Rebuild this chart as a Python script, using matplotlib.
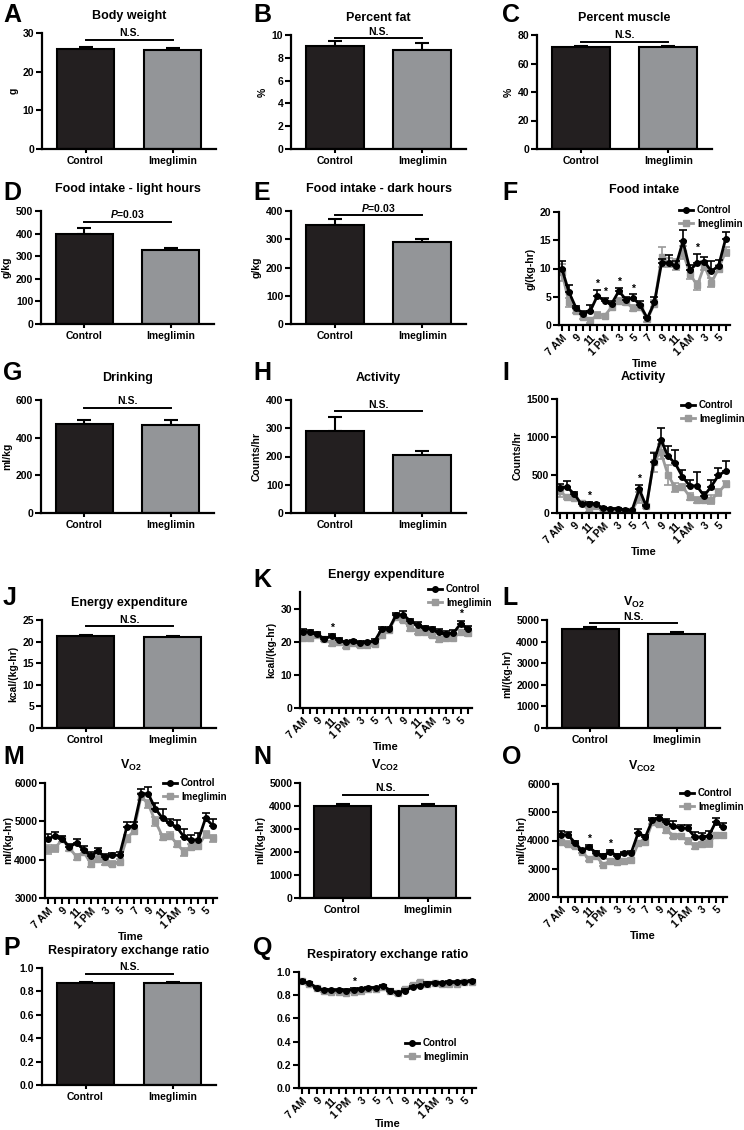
import matplotlib
matplotlib.use('Agg')
import matplotlib.pyplot as plt
from matplotlib.lines import Line2D
import numpy as np

plt.rcParams['font.family'] = ['Liberation Sans', 'DejaVu Sans']
plt.rcParams['font.weight'] = 'bold'
plt.rcParams['axes.labelweight'] = 'bold'
plt.rcParams['axes.titleweight'] = 'bold'
plt.rcParams['mathtext.fontset'] = 'custom'
plt.rcParams['mathtext.rm'] = 'Liberation Sans:bold'
plt.rcParams['mathtext.bf'] = 'Liberation Sans:bold'
plt.rcParams['mathtext.it'] = 'Liberation Sans:italic:bold'

groups = ['Control', 'Imeglimin']
hours = ['7 AM', '9', '11', '1 PM', '3', '5', '7', '9', '11', '1 AM', '3', '5']

# bar panels: means, sem
body_weight = [25.8, 25.6]; body_weight_err = [0.6, 0.4]
pct_fat = [9.0, 8.7]; pct_fat_err = [0.5, 0.6]
pct_muscle = [71.5, 71.5]; pct_muscle_err = [0.5, 0.7]
food_light = [400, 326]; food_light_err = [25, 12]
food_dark = [350, 290]; food_dark_err = [20, 10]
drinking = [470, 468]; drinking_err = [25, 25]
activity = [290, 205]; activity_err = [50, 15]
energy = [21.2, 21.1]; energy_err = [0.3, 0.3]
vo2 = [4600, 4360]; vo2_err = [80, 80]
vco2 = [4020, 4020]; vco2_err = [80, 80]
rer = [0.87, 0.87]; rer_err = [0.01, 0.01]

# time series (24 hourly points, 7 AM .. 6 AM)
food_ctl = [10.0, 5.8, 3.0, 2.0, 2.5, 5.2, 4.2, 3.8, 6.0, 4.5, 4.8, 3.5, 1.2, 4.0, 11.0, 11.0, 10.5, 14.8, 9.7, 11.0, 11.2, 9.5, 10.5, 15.3]
food_ctl_err = [1.4, 1.3, 0.4, 0.5, 1.0, 1.0, 0.6, 0.5, 0.6, 0.5, 0.6, 0.7, 0.3, 1.0, 0.7, 1.4, 0.9, 2.0, 1.0, 1.5, 0.8, 1.8, 1.0, 1.1]
food_ime = [9.3, 4.0, 2.5, 1.5, 0.8, 1.8, 1.6, 3.2, 4.2, 4.0, 3.0, 3.2, 1.0, 3.8, 12.0, 11.0, 10.7, 12.8, 9.0, 7.0, 10.5, 7.5, 10.0, 13.0]
food_ime_err = [1.5, 0.8, 0.4, 0.4, 0.4, 0.5, 0.4, 0.6, 0.5, 0.5, 0.5, 0.5, 0.4, 0.6, 1.8, 0.8, 1.0, 1.2, 0.8, 0.8, 0.8, 0.8, 0.6, 0.8]
food_stars = [5, 6, 8, 10, 19]

act_ctl = [335, 340, 250, 113, 120, 113, 65, 52, 56, 39, 35, 313, 87, 665, 965, 748, 652, 478, 360, 356, 226, 348, 496, 552]
act_ctl_err = [50, 75, 30, 20, 25, 25, 15, 12, 10, 10, 10, 60, 20, 120, 160, 140, 180, 90, 80, 190, 50, 90, 100, 130]
act_ime = [283, 209, 196, 130, 43, 96, 56, 30, 43, 30, 30, 204, 87, 674, 804, 500, 335, 348, 217, 174, 174, 174, 270, 378]
act_ime_err = [70, 30, 30, 15, 30, 20, 10, 10, 10, 10, 10, 70, 20, 130, 100, 130, 60, 40, 50, 40, 40, 60, 50, 40]
act_stars = [4, 11]

ee_ctl = [23.0, 22.8, 22.3, 20.8, 21.7, 20.5, 19.8, 20.1, 19.7, 19.8, 20.1, 23.8, 23.8, 28.0, 28.2, 26.2, 25.0, 24.1, 23.8, 22.8, 22.4, 22.6, 25.4, 23.9]
ee_ctl_err = [0.8, 0.6, 0.5, 0.5, 0.6, 0.5, 0.5, 0.5, 0.5, 0.5, 0.6, 0.7, 0.6, 0.7, 1.0, 0.8, 0.9, 0.7, 0.7, 1.0, 0.7, 1.0, 1.0, 0.9]
ee_ime = [21.2, 21.2, 22.0, 20.8, 19.5, 20.0, 18.8, 19.5, 19.0, 19.0, 19.2, 22.0, 23.5, 27.5, 26.7, 24.0, 23.0, 23.0, 22.0, 20.7, 21.2, 21.2, 22.8, 22.5]
ee_ime_err = [0.8, 0.7, 0.6, 0.6, 0.7, 0.6, 0.6, 0.6, 0.6, 0.6, 0.6, 0.8, 0.7, 0.8, 0.8, 0.8, 0.7, 0.7, 0.7, 0.8, 0.7, 0.8, 0.8, 0.8]
ee_stars = [4, 22]

vo2_ctl = [4540, 4620, 4550, 4330, 4440, 4250, 4100, 4220, 4060, 4110, 4120, 4840, 4880, 5720, 5720, 5330, 5080, 4950, 4850, 4590, 4510, 4520, 5080, 4890]
vo2_ctl_err = [120, 100, 80, 80, 100, 100, 90, 90, 80, 70, 70, 130, 100, 120, 180, 150, 230, 100, 180, 220, 130, 180, 150, 180]
vo2_ime = [4270, 4300, 4530, 4300, 4080, 4200, 3900, 4020, 3930, 3900, 3950, 4550, 4750, 5650, 5450, 5000, 4600, 4630, 4420, 4200, 4330, 4350, 4660, 4560]
vo2_ime_err = [110, 90, 80, 70, 80, 80, 80, 70, 70, 70, 70, 100, 80, 100, 100, 120, 80, 80, 80, 100, 70, 80, 90, 90]

vco2_ctl = [4200, 4200, 3920, 3650, 3760, 3570, 3450, 3600, 3460, 3540, 3570, 4280, 4120, 4720, 4790, 4650, 4500, 4450, 4430, 4130, 4120, 4160, 4650, 4480]
vco2_ctl_err = [120, 110, 70, 60, 80, 70, 60, 60, 60, 60, 70, 120, 80, 80, 130, 120, 180, 90, 130, 170, 130, 180, 150, 150]
vco2_ime = [3930, 3880, 3820, 3600, 3350, 3450, 3150, 3270, 3250, 3270, 3300, 3900, 3950, 4650, 4600, 4380, 4170, 4150, 4000, 3800, 3880, 3900, 4200, 4180]
vco2_ime_err = [100, 90, 70, 60, 80, 60, 70, 60, 60, 60, 70, 90, 80, 80, 80, 100, 70, 70, 90, 100, 80, 120, 80, 80]
vco2_stars = [4, 7]

rer_ctl = [0.92, 0.905, 0.865, 0.845, 0.843, 0.842, 0.84, 0.848, 0.85, 0.86, 0.865, 0.88, 0.84, 0.82, 0.84, 0.87, 0.88, 0.9, 0.905, 0.905, 0.91, 0.91, 0.915, 0.92]
rer_ctl_err = [0.01] * 24
rer_ime = [0.925, 0.9, 0.86, 0.84, 0.83, 0.825, 0.82, 0.825, 0.84, 0.85, 0.855, 0.875, 0.835, 0.815, 0.85, 0.89, 0.91, 0.9, 0.905, 0.9, 0.9, 0.9, 0.91, 0.915]
rer_ime_err = [0.01] * 24
rer_stars = [7]

W, H = 744, 1130
fig = plt.figure(figsize=(W / 100, H / 100), dpi=100)

DARK = '#231f20'
GREY = '#939598'
LGREY = '#9a9a9a'


def make_ax(x0, y0, x1, y1):
    return fig.add_axes([x0 / W, 1 - y1 / H, (x1 - x0) / W, (y1 - y0) / H])


def style(ax):
    for s in ['top', 'right']:
        ax.spines[s].set_visible(False)
    for s in ['left', 'bottom']:
        ax.spines[s].set_linewidth(1.6)
    ax.tick_params(width=1.5, length=4, labelsize=7.5, pad=1.5)


def letter(x, y, s):
    fig.text(x / W, 1 - y / H, s, fontsize=18, fontweight='bold', va='center', ha='left')


def bar_panel(box, title, vals, errs, ylim, ticks, ylabel, line_y, note, labelpad=3, tpad=10):
    ax = make_ax(*box)
    style(ax)
    ax.bar([0, 1], vals, width=0.66, color=[DARK, GREY], edgecolor='black', linewidth=1.5, zorder=2)
    ax.errorbar([0, 1], vals, yerr=np.array([[0, 0], errs]), fmt='none', ecolor='black',
                elinewidth=1.5, capsize=5, capthick=1.5, zorder=1)
    ax.set_xlim(-0.5, 1.5)
    ax.set_ylim(*ylim)
    ax.set_yticks(ticks)
    ax.set_xticks([0, 1])
    ax.set_xticklabels(groups)
    ax.tick_params(axis='x', length=3, pad=2)
    ax.set_ylabel(ylabel, fontsize=7.5, labelpad=labelpad)
    ax.set_title(title, fontsize=9, pad=tpad)
    ax.plot([0, 1], [line_y, line_y], color='black', lw=1.4, clip_on=False)
    ax.text(0.5, line_y + (ylim[1] - ylim[0]) * 0.015, note, ha='center', va='bottom', fontsize=7.5)
    return ax


def time_panel(box, title, ctl, ctl_err, ime, ime_err, ylim, ticks, ylabel, stars, leg_xy,
               labelpad=3, tpad=10, xlabelpad=1):
    ax = make_ax(*box)
    style(ax)
    x = np.arange(len(ctl))
    ax.errorbar(x, ime, yerr=np.array(ime_err), color=LGREY, marker='s', ms=4, lw=2,
                elinewidth=1.2, capsize=3, capthick=1.2, zorder=2)
    ax.errorbar(x, ctl, yerr=np.array([np.zeros(len(ctl)), ctl_err]), color='black', marker='o', ms=4,
                lw=2, elinewidth=1.2, capsize=3, capthick=1.2, zorder=3)
    span = ylim[1] - ylim[0]
    for i in stars:
        ax.text(i, ctl[i] + ctl_err[i] + span * 0.01, '*', ha='center', va='bottom', fontsize=7.5)
    ax.set_xlim(-0.4, 23.6)
    ax.set_ylim(*ylim)
    ax.set_yticks(ticks)
    ax.set_xticks(np.arange(0, 24, 2))
    ax.set_xticks(np.arange(1, 24, 2), minor=True)
    ax.tick_params(axis='x', which='minor', length=4, width=1.5)
    ax.set_xticklabels(hours, rotation=45, ha='right', rotation_mode='anchor')
    ax.set_xlabel('Time', fontsize=8, labelpad=xlabelpad)
    ax.set_ylabel(ylabel, fontsize=7.5, labelpad=labelpad)
    ax.set_title(title, fontsize=9, pad=tpad)
    handles = [Line2D([], [], color='black', marker='o', ms=4, lw=2),
               Line2D([], [], color=LGREY, marker='s', ms=4, lw=2)]
    ax.legend(handles, groups, loc='upper left', bbox_to_anchor=(leg_xy[0] / W, 1 - leg_xy[1] / H),
              bbox_transform=fig.transFigure, frameon=False, fontsize=7, handlelength=1.4,
              handletextpad=0.45, labelspacing=0.4, borderpad=0, borderaxespad=0)
    return ax


VO2 = r'$\mathbf{V_{O2}}$'
VCO2 = r'$\mathbf{V_{CO2}}$'
NS = 'N.S.'
P = r'$\mathit{P}$=0.03'

# row 1
letter(3, 15, 'A'); letter(253, 15, 'B'); letter(502, 15, 'C')
bar_panel((42, 33, 216, 149), 'Body weight', body_weight, body_weight_err, (0, 30), [0, 10, 20, 30], 'g', 28.3, NS)
bar_panel((291, 35, 466, 149), 'Percent fat', pct_fat, pct_fat_err, (0, 10), [0, 2, 4, 6, 8, 10], '%', 9.7, NS)
bar_panel((537, 35, 712, 149), 'Percent muscle', pct_muscle, pct_muscle_err, (0, 80), [0, 20, 40, 60, 80], '%', 75, NS)

# row 2
letter(3, 193, 'D'); letter(253, 193, 'E'); letter(502, 193, 'F')
bar_panel((41, 211, 214, 324), 'Food intake - light hours', food_light, food_light_err, (0, 500), [0, 100, 200, 300, 400, 500], 'g/kg', 451, P, tpad=14)
bar_panel((291, 211, 466, 324), 'Food intake - dark hours', food_dark, food_dark_err, (0, 400), [0, 100, 200, 300, 400], 'g/kg', 385, P, tpad=14)
time_panel((559, 212, 730, 325), 'Food intake', food_ctl, food_ctl_err, food_ime, food_ime_err,
           (0, 20), [0, 5, 10, 15, 20], 'g/(kg-hr)', food_stars, (679, 205), tpad=14)

# row 3
letter(3, 373, 'G'); letter(253, 373, 'H'); letter(502, 373, 'I')
bar_panel((41, 400, 214, 513), 'Drinking', drinking, drinking_err, (0, 600), [0, 200, 400, 600], 'ml/kg', 560, NS, tpad=14)
bar_panel((291, 400, 466, 513), 'Activity', activity, activity_err, (0, 400), [0, 100, 200, 300, 400], 'Counts/hr', 360, NS, tpad=14)
time_panel((557, 399, 730, 513), 'Activity', act_ctl, act_ctl_err, act_ime, act_ime_err,
           (0, 1500), [0, 500, 1000, 1500], 'Counts/hr', act_stars, (681, 400), tpad=14)

# row 4
letter(3, 598, 'J'); letter(253, 580, 'K'); letter(502, 598, 'L')
bar_panel((42, 620, 216, 728), 'Energy expenditure', energy, energy_err, (0, 25), [0, 5, 10, 15, 20, 25], 'kcal/(kg-hr)', 23.5, NS)
time_panel((300, 592, 472, 708), 'Energy expenditure', ee_ctl, ee_ctl_err, ee_ime, ee_ime_err,
           (0, 35), [0, 10, 20, 30], 'kcal/(kg-hr)', ee_stars, (428, 584))
bar_panel((547, 620, 720, 728), VO2, vo2, vo2_err, (0, 5000), [0, 1000, 2000, 3000, 4000, 5000], 'ml/(kg-hr)', 4850, NS)

# row 5
letter(3, 757, 'M'); letter(253, 757, 'N'); letter(502, 757, 'O')
time_panel((45, 783, 217, 898), VO2, vo2_ctl, vo2_ctl_err, vo2_ime, vo2_ime_err,
           (3000, 6000), [3000, 4000, 5000, 6000], 'ml/(kg-hr)', [], (163, 778), labelpad=1)
bar_panel((300, 783, 470, 898), VCO2, vco2, vco2_err, (0, 5000), [0, 1000, 2000, 3000, 4000, 5000], 'ml/(kg-hr)', 4500, NS)
time_panel((558, 784, 727, 897), VCO2, vco2_ctl, vco2_ctl_err, vco2_ime, vco2_ime_err,
           (2000, 6000), [2000, 3000, 4000, 5000, 6000], 'ml/(kg-hr)', vco2_stars, (680, 788), labelpad=1)

# row 6
letter(3, 948, 'P'); letter(253, 948, 'Q')
bar_panel((42, 968, 216, 1085), 'Respiratory exchange ratio', rer, rer_err, (0, 1.0), [0, 0.2, 0.4, 0.6, 0.8, 1.0], '', 0.95, NS)
time_panel((299, 972, 476, 1088), 'Respiratory exchange ratio', rer_ctl, rer_ctl_err, rer_ime, rer_ime_err,
           (0, 1.0), [0, 0.2, 0.4, 0.6, 0.8, 1.0], '', rer_stars, (405, 1038), xlabelpad=-1)

fig.savefig('out.png', dpi=100)
